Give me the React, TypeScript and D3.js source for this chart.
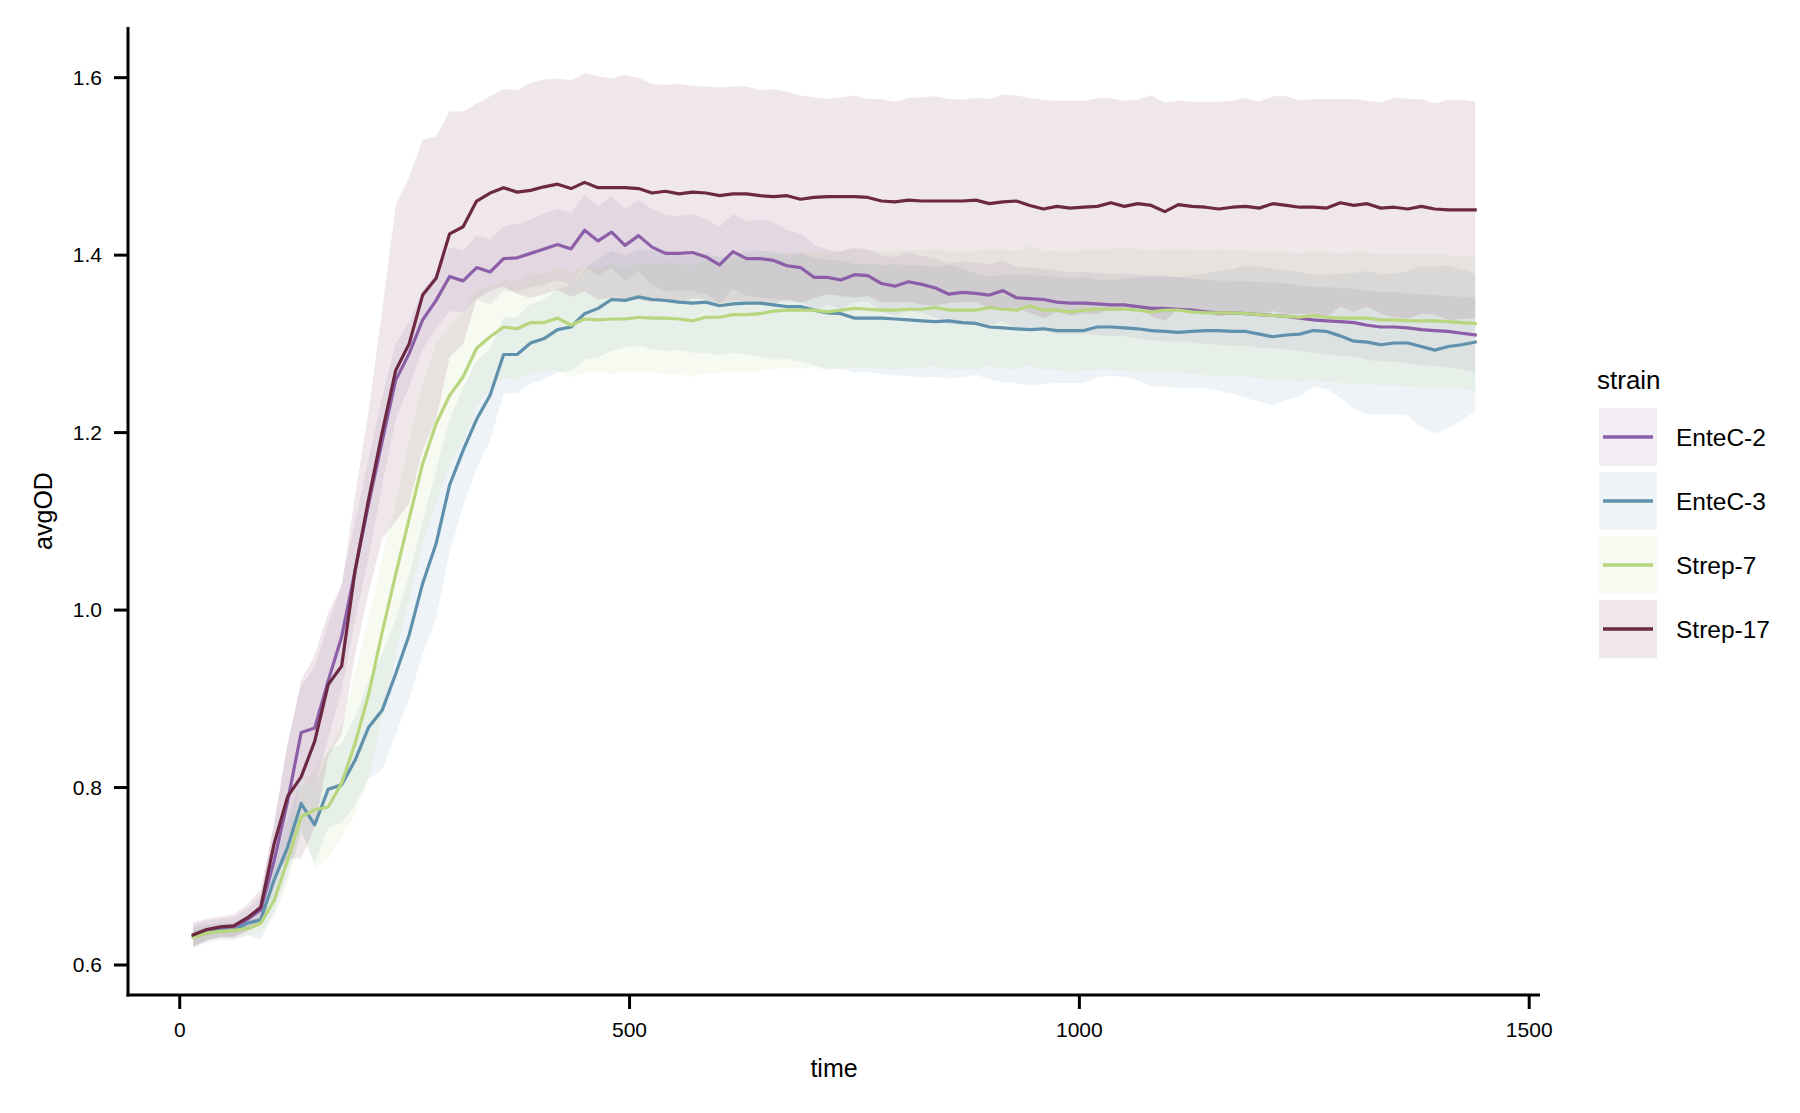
import * as d3 from "d3"

const WIDTH = 1800
const HEIGHT = 1113
const FONT = "'Liberation Sans', Arial, Helvetica, sans-serif"

// sampling times (minutes)
const TIME = [
  15, 30, 45, 60, 75, 90, 105, 120, 135, 150, 165, 180,
  195, 210, 225, 240, 255, 270, 285, 300, 315, 330, 345, 360,
  375, 390, 405, 420, 435, 450, 465, 480, 495, 510, 525, 540,
  555, 570, 585, 600, 615, 630, 645, 660, 675, 690, 705, 720,
  735, 750, 765, 780, 795, 810, 825, 840, 855, 870, 885, 900,
  915, 930, 945, 960, 975, 990, 1005, 1020, 1035, 1050, 1065, 1080,
  1095, 1110, 1125, 1140, 1155, 1170, 1185, 1200, 1215, 1230, 1245, 1260,
  1275, 1290, 1305, 1320, 1335, 1350, 1365, 1380, 1395, 1410, 1425, 1440,
]

const ENTEC2_MEAN = [
  0.633, 0.639, 0.642, 0.643, 0.651, 0.662, 0.718, 0.785, 0.862, 0.867, 0.920, 0.970,
  1.045, 1.120, 1.190, 1.259, 1.289, 1.327, 1.349, 1.376, 1.371, 1.386, 1.381, 1.396,
  1.397, 1.402, 1.407, 1.412, 1.407, 1.428, 1.416, 1.426, 1.411, 1.422, 1.409, 1.402,
  1.402, 1.403, 1.398, 1.389, 1.404, 1.396, 1.396, 1.394, 1.388, 1.386, 1.375, 1.375,
  1.372, 1.378, 1.377, 1.368, 1.365, 1.370, 1.367, 1.363, 1.356, 1.358, 1.357, 1.355,
  1.360, 1.352, 1.351, 1.350, 1.347, 1.346, 1.346, 1.345, 1.344, 1.344, 1.342, 1.340,
  1.340, 1.339, 1.338, 1.336, 1.335, 1.335, 1.334, 1.333, 1.332, 1.331, 1.329, 1.327,
  1.326, 1.325, 1.324, 1.321, 1.319, 1.319, 1.318, 1.316, 1.315, 1.314, 1.312, 1.310,
]
const ENTEC2_HI = [
  0.645, 0.650, 0.652, 0.654, 0.663, 0.678, 0.760, 0.850, 0.915, 0.935, 0.985, 1.030,
  1.100, 1.170, 1.240, 1.300, 1.325, 1.360, 1.380, 1.409, 1.405, 1.422, 1.418, 1.432,
  1.435, 1.440, 1.447, 1.452, 1.448, 1.468, 1.455, 1.466, 1.452, 1.462, 1.452, 1.445,
  1.444, 1.446, 1.440, 1.432, 1.446, 1.438, 1.440, 1.437, 1.428, 1.424, 1.412, 1.406,
  1.404, 1.409, 1.406, 1.400, 1.398, 1.403, 1.399, 1.396, 1.390, 1.393, 1.391, 1.390,
  1.394, 1.387, 1.386, 1.384, 1.383, 1.381, 1.381, 1.380, 1.379, 1.379, 1.378, 1.376,
  1.377, 1.375, 1.374, 1.372, 1.371, 1.371, 1.370, 1.370, 1.369, 1.368, 1.366, 1.364,
  1.364, 1.363, 1.362, 1.360, 1.358, 1.358, 1.357, 1.356, 1.355, 1.354, 1.353, 1.352,
]
const ENTEC2_LO = [
  0.621, 0.628, 0.632, 0.632, 0.639, 0.646, 0.680, 0.720, 0.810, 0.800, 0.855, 0.910,
  0.990, 1.060, 1.140, 1.215, 1.252, 1.294, 1.318, 1.337, 1.335, 1.350, 1.344, 1.360,
  1.359, 1.364, 1.367, 1.372, 1.366, 1.388, 1.377, 1.386, 1.370, 1.382, 1.366, 1.359,
  1.360, 1.360, 1.356, 1.346, 1.362, 1.354, 1.352, 1.351, 1.348, 1.348, 1.338, 1.344,
  1.340, 1.347, 1.348, 1.336, 1.332, 1.337, 1.335, 1.330, 1.322, 1.323, 1.323, 1.320,
  1.326, 1.317, 1.316, 1.315, 1.311, 1.311, 1.311, 1.310, 1.309, 1.309, 1.306, 1.304,
  1.303, 1.303, 1.302, 1.300, 1.299, 1.298, 1.298, 1.296, 1.295, 1.294, 1.292, 1.290,
  1.288, 1.287, 1.286, 1.282, 1.280, 1.280, 1.278, 1.276, 1.275, 1.274, 1.271, 1.268,
]

const ENTEC3_MEAN = [
  0.632, 0.636, 0.639, 0.639, 0.647, 0.651, 0.696, 0.733, 0.782, 0.758, 0.798, 0.803,
  0.831, 0.868, 0.887, 0.928, 0.972, 1.030, 1.075, 1.141, 1.180, 1.215, 1.242, 1.288,
  1.288, 1.301, 1.306, 1.316, 1.319, 1.334, 1.340, 1.350, 1.349, 1.353, 1.350, 1.349,
  1.347, 1.346, 1.347, 1.343, 1.345, 1.346, 1.346, 1.344, 1.342, 1.342, 1.338, 1.335,
  1.334, 1.329, 1.329, 1.329, 1.328, 1.327, 1.326, 1.325, 1.326, 1.324, 1.323, 1.319,
  1.318, 1.317, 1.316, 1.317, 1.315, 1.315, 1.315, 1.319, 1.319, 1.318, 1.317, 1.315,
  1.314, 1.313, 1.314, 1.315, 1.315, 1.314, 1.314, 1.311, 1.308, 1.310, 1.311, 1.315,
  1.314, 1.309, 1.303, 1.302, 1.299, 1.301, 1.301, 1.297, 1.293, 1.297, 1.299, 1.302,
]
const ENTEC3_HI = [
  0.642, 0.645, 0.648, 0.648, 0.656, 0.663, 0.720, 0.765, 0.810, 0.800, 0.840, 0.850,
  0.880, 0.920, 0.950, 0.990, 1.040, 1.100, 1.158, 1.215, 1.251, 1.280, 1.295, 1.330,
  1.330, 1.345, 1.350, 1.362, 1.366, 1.385, 1.395, 1.405, 1.400, 1.406, 1.405, 1.405,
  1.400, 1.400, 1.402, 1.398, 1.400, 1.404, 1.405, 1.404, 1.400, 1.402, 1.397, 1.395,
  1.394, 1.390, 1.390, 1.389, 1.390, 1.388, 1.388, 1.387, 1.389, 1.384, 1.380, 1.376,
  1.378, 1.378, 1.377, 1.377, 1.375, 1.374, 1.375, 1.372, 1.372, 1.373, 1.374, 1.378,
  1.376, 1.375, 1.378, 1.379, 1.382, 1.384, 1.388, 1.387, 1.385, 1.383, 1.381, 1.378,
  1.378, 1.379, 1.380, 1.382, 1.378, 1.380, 1.382, 1.387, 1.387, 1.388, 1.384, 1.379,
]
const ENTEC3_LO = [
  0.620, 0.625, 0.628, 0.628, 0.634, 0.628, 0.660, 0.700, 0.750, 0.715, 0.755, 0.760,
  0.780, 0.810, 0.820, 0.860, 0.900, 0.950, 0.992, 1.065, 1.117, 1.160, 1.191, 1.244,
  1.245, 1.255, 1.260, 1.268, 1.270, 1.282, 1.285, 1.292, 1.296, 1.298, 1.294, 1.292,
  1.293, 1.290, 1.290, 1.287, 1.290, 1.288, 1.285, 1.282, 1.283, 1.280, 1.276, 1.272,
  1.272, 1.268, 1.268, 1.266, 1.264, 1.264, 1.262, 1.263, 1.261, 1.262, 1.265, 1.260,
  1.257, 1.256, 1.253, 1.255, 1.256, 1.256, 1.256, 1.263, 1.264, 1.263, 1.259, 1.252,
  1.252, 1.250, 1.250, 1.250, 1.247, 1.244, 1.239, 1.235, 1.231, 1.237, 1.241, 1.252,
  1.249, 1.239, 1.227, 1.221, 1.220, 1.221, 1.219, 1.207, 1.199, 1.205, 1.214, 1.224,
]

const STREP7_MEAN = [
  0.631, 0.636, 0.638, 0.639, 0.641, 0.647, 0.673, 0.718, 0.767, 0.775, 0.778, 0.805,
  0.850, 0.905, 0.975, 1.040, 1.103, 1.165, 1.210, 1.242, 1.263, 1.295, 1.308, 1.319,
  1.317, 1.324, 1.324, 1.329, 1.321, 1.328, 1.327, 1.328, 1.328, 1.330, 1.329, 1.329,
  1.328, 1.326, 1.330, 1.330, 1.333, 1.333, 1.334, 1.337, 1.338, 1.338, 1.338, 1.336,
  1.338, 1.340, 1.339, 1.338, 1.338, 1.339, 1.339, 1.341, 1.338, 1.338, 1.338, 1.341,
  1.339, 1.338, 1.343, 1.338, 1.338, 1.336, 1.338, 1.339, 1.339, 1.339, 1.338, 1.336,
  1.338, 1.338, 1.336, 1.335, 1.335, 1.335, 1.334, 1.333, 1.332, 1.331, 1.330, 1.332,
  1.330, 1.329, 1.329, 1.329, 1.327, 1.327, 1.326, 1.326, 1.326, 1.325, 1.324, 1.323,
]
const STREP7_HI = [
  0.640, 0.643, 0.645, 0.646, 0.649, 0.656, 0.690, 0.745, 0.800, 0.820, 0.840, 0.870,
  0.930, 0.990, 1.060, 1.120, 1.190, 1.255, 1.300, 1.320, 1.335, 1.360, 1.365, 1.372,
  1.370, 1.380, 1.378, 1.388, 1.380, 1.388, 1.385, 1.390, 1.387, 1.392, 1.390, 1.392,
  1.390, 1.389, 1.394, 1.393, 1.397, 1.398, 1.399, 1.402, 1.403, 1.404, 1.404, 1.402,
  1.404, 1.406, 1.405, 1.404, 1.404, 1.405, 1.405, 1.407, 1.404, 1.404, 1.404, 1.407,
  1.406, 1.404, 1.410, 1.404, 1.405, 1.403, 1.406, 1.407, 1.407, 1.408, 1.407, 1.405,
  1.407, 1.407, 1.406, 1.405, 1.406, 1.405, 1.405, 1.404, 1.404, 1.403, 1.402, 1.405,
  1.403, 1.402, 1.403, 1.403, 1.401, 1.401, 1.400, 1.401, 1.401, 1.400, 1.399, 1.398,
]
const STREP7_LO = [
  0.622, 0.628, 0.631, 0.631, 0.632, 0.636, 0.655, 0.690, 0.752, 0.709, 0.720, 0.745,
  0.770, 0.810, 0.880, 0.950, 1.010, 1.075, 1.120, 1.165, 1.190, 1.230, 1.250, 1.262,
  1.260, 1.267, 1.270, 1.270, 1.262, 1.268, 1.269, 1.266, 1.268, 1.268, 1.268, 1.266,
  1.266, 1.263, 1.267, 1.267, 1.269, 1.268, 1.269, 1.272, 1.272, 1.272, 1.273, 1.270,
  1.272, 1.274, 1.273, 1.272, 1.271, 1.273, 1.273, 1.275, 1.271, 1.271, 1.271, 1.275,
  1.272, 1.271, 1.276, 1.271, 1.271, 1.269, 1.270, 1.271, 1.271, 1.270, 1.269, 1.267,
  1.268, 1.268, 1.266, 1.265, 1.264, 1.264, 1.263, 1.261, 1.260, 1.259, 1.258, 1.259,
  1.257, 1.256, 1.255, 1.255, 1.253, 1.253, 1.252, 1.251, 1.251, 1.250, 1.249, 1.247,
]

const STREP17_MEAN = [
  0.634, 0.640, 0.643, 0.644, 0.653, 0.665, 0.737, 0.790, 0.812, 0.852, 0.916, 0.937,
  1.045, 1.125, 1.200, 1.270, 1.300, 1.355, 1.374, 1.424, 1.432, 1.461, 1.470, 1.476,
  1.471, 1.473, 1.477, 1.480, 1.475, 1.482, 1.476, 1.476, 1.476, 1.475, 1.470, 1.472,
  1.469, 1.471, 1.470, 1.467, 1.469, 1.469, 1.467, 1.466, 1.467, 1.463, 1.465, 1.466,
  1.466, 1.466, 1.465, 1.461, 1.460, 1.462, 1.461, 1.461, 1.461, 1.461, 1.462, 1.458,
  1.460, 1.461, 1.456, 1.452, 1.455, 1.453, 1.454, 1.455, 1.459, 1.455, 1.458, 1.456,
  1.449, 1.457, 1.455, 1.454, 1.452, 1.454, 1.455, 1.453, 1.458, 1.456, 1.454, 1.454,
  1.453, 1.459, 1.456, 1.458, 1.453, 1.454, 1.452, 1.455, 1.452, 1.451, 1.451, 1.451,
]
const STREP17_HI = [
  0.648, 0.652, 0.655, 0.657, 0.668, 0.685, 0.760, 0.850, 0.921, 0.949, 0.997, 1.027,
  1.130, 1.225, 1.337, 1.456, 1.488, 1.530, 1.534, 1.562, 1.562, 1.571, 1.579, 1.587,
  1.586, 1.594, 1.598, 1.599, 1.597, 1.605, 1.602, 1.599, 1.603, 1.600, 1.593, 1.592,
  1.593, 1.591, 1.590, 1.589, 1.590, 1.590, 1.586, 1.587, 1.584, 1.580, 1.578, 1.576,
  1.578, 1.580, 1.576, 1.576, 1.573, 1.577, 1.578, 1.579, 1.576, 1.575, 1.577, 1.576,
  1.581, 1.580, 1.577, 1.575, 1.574, 1.574, 1.574, 1.577, 1.577, 1.574, 1.575, 1.580,
  1.572, 1.574, 1.573, 1.573, 1.573, 1.574, 1.577, 1.573, 1.579, 1.579, 1.574, 1.576,
  1.576, 1.576, 1.576, 1.574, 1.572, 1.578, 1.576, 1.576, 1.571, 1.575, 1.575, 1.573,
]
const STREP17_LO = [
  0.620, 0.628, 0.631, 0.631, 0.638, 0.645, 0.700, 0.720, 0.720, 0.755, 0.835, 0.860,
  0.950, 1.020, 1.080, 1.100, 1.120, 1.180, 1.215, 1.285, 1.300, 1.350, 1.360, 1.365,
  1.356, 1.352, 1.356, 1.361, 1.353, 1.359, 1.350, 1.352, 1.348, 1.350, 1.347, 1.352,
  1.345, 1.351, 1.350, 1.345, 1.348, 1.348, 1.348, 1.345, 1.350, 1.346, 1.352, 1.356,
  1.354, 1.352, 1.354, 1.347, 1.347, 1.347, 1.344, 1.343, 1.346, 1.347, 1.347, 1.340,
  1.339, 1.341, 1.335, 1.329, 1.336, 1.332, 1.334, 1.333, 1.341, 1.337, 1.341, 1.331,
  1.326, 1.340, 1.337, 1.335, 1.331, 1.334, 1.333, 1.333, 1.337, 1.333, 1.334, 1.332,
  1.330, 1.342, 1.336, 1.342, 1.334, 1.330, 1.328, 1.334, 1.333, 1.327, 1.328, 1.329,
]

const STRAINS = ["EnteC-2", "EnteC-3", "Strep-7", "Strep-17"]
const COLORS = ["#8b5ea7", "#5f91ad", "#b7d67e", "#6d2844"]
const MEANS = [ENTEC2_MEAN, ENTEC3_MEAN, STREP7_MEAN, STREP17_MEAN]
const HIGHS = [ENTEC2_HI, ENTEC3_HI, STREP7_HI, STREP17_HI]
const LOWS = [ENTEC2_LO, ENTEC3_LO, STREP7_LO, STREP17_LO]

const X_TICKS = [0, 500, 1000, 1500]
const Y_TICKS = [0.6, 0.8, 1.0, 1.2, 1.4, 1.6]

// axes box (matplotlib-like, 5% margins)
const PLOT = { left: 128, right: 1540, top: 27, bottom: 995 }
const BAND_ALPHA = 0.11

export default function App() {
  const x = d3.scaleLinear().domain([-57.5, 1512]).range([PLOT.left, PLOT.right])
  const y = d3.scaleLinear().domain([0.5662, 1.6571]).range([PLOT.bottom, PLOT.top])

  const line = d3.line<number>()
    .x((_, i) => x(TIME[i]))
    .y((d) => y(d))

  const area = (lo: number[], hi: number[]) =>
    d3.area<number>()
      .x((_, i) => x(TIME[i]))
      .y0((_, i) => y(lo[i]))
      .y1((_, i) => y(hi[i]))(TIME)

  const legendX = 1599
  const legendY0 = 408
  const keySize = 58
  const keyStep = 64

  return (
    <svg
      width={WIDTH}
      height={HEIGHT}
      style={{ position: "absolute", left: 0, top: 0, background: "#fff" }}
      fontFamily={FONT}
    >
      <rect width={WIDTH} height={HEIGHT} fill="#fff" />

      {/* ── CI bands ───────────────────────────────────────── */}
      {STRAINS.map((s, k) => (
        <path
          key={`band-${s}`}
          d={area(LOWS[k], HIGHS[k]) ?? ""}
          fill={COLORS[k]}
          fillOpacity={BAND_ALPHA}
          stroke="none"
        />
      ))}

      {/* ── mean lines ─────────────────────────────────────── */}
      {STRAINS.map((s, k) => (
        <path
          key={`line-${s}`}
          d={line(MEANS[k]) ?? ""}
          fill="none"
          stroke={COLORS[k]}
          strokeWidth={3.2}
          strokeLinejoin="round"
          strokeLinecap="square"
        />
      ))}

      {/* ── axes ───────────────────────────────────────────── */}
      <line x1={PLOT.left} x2={PLOT.left} y1={PLOT.top} y2={PLOT.bottom + 1.5} stroke="#000" strokeWidth={3} />
      <line x1={PLOT.left - 1.5} x2={PLOT.right} y1={PLOT.bottom} y2={PLOT.bottom} stroke="#000" strokeWidth={3} />

      {Y_TICKS.map((t) => (
        <g key={`yt-${t}`}>
          <line x1={PLOT.left - 14} x2={PLOT.left} y1={y(t)} y2={y(t)} stroke="#000" strokeWidth={3} />
          <text
            x={PLOT.left - 26}
            y={y(t)}
            dy="0.35em"
            textAnchor="end"
            fontSize={21}
            fill="#000"
          >
            {d3.format(".1f")(t)}
          </text>
        </g>
      ))}

      {X_TICKS.map((t) => (
        <g key={`xt-${t}`}>
          <line x1={x(t)} x2={x(t)} y1={PLOT.bottom} y2={PLOT.bottom + 14} stroke="#000" strokeWidth={3} />
          <text x={x(t)} y={PLOT.bottom + 42} textAnchor="middle" fontSize={21} fill="#000">
            {t}
          </text>
        </g>
      ))}

      <text x={(PLOT.left + PLOT.right) / 2} y={1077} textAnchor="middle" fontSize={25} fill="#000">
        time
      </text>
      <text
        transform={`translate(52,${(PLOT.top + PLOT.bottom) / 2}) rotate(-90)`}
        textAnchor="middle"
        fontSize={25}
        fill="#000"
      >
        avgOD
      </text>

      {/* ── legend ─────────────────────────────────────────── */}
      <text x={1597} y={389} fontSize={26} fill="#000">strain</text>
      {STRAINS.map((s, k) => {
        const top = legendY0 + k * keyStep
        const cy = top + keySize / 2
        return (
          <g key={`lg-${s}`}>
            <rect x={legendX} y={top} width={keySize} height={keySize} fill={COLORS[k]} fillOpacity={BAND_ALPHA} />
            <line x1={legendX + 4} x2={legendX + keySize - 4} y1={cy} y2={cy} stroke={COLORS[k]} strokeWidth={3.6} />
            <text x={1676} y={cy} dy="0.35em" fontSize={24.5} fill="#000">{s}</text>
          </g>
        )
      })}
    </svg>
  )
}
